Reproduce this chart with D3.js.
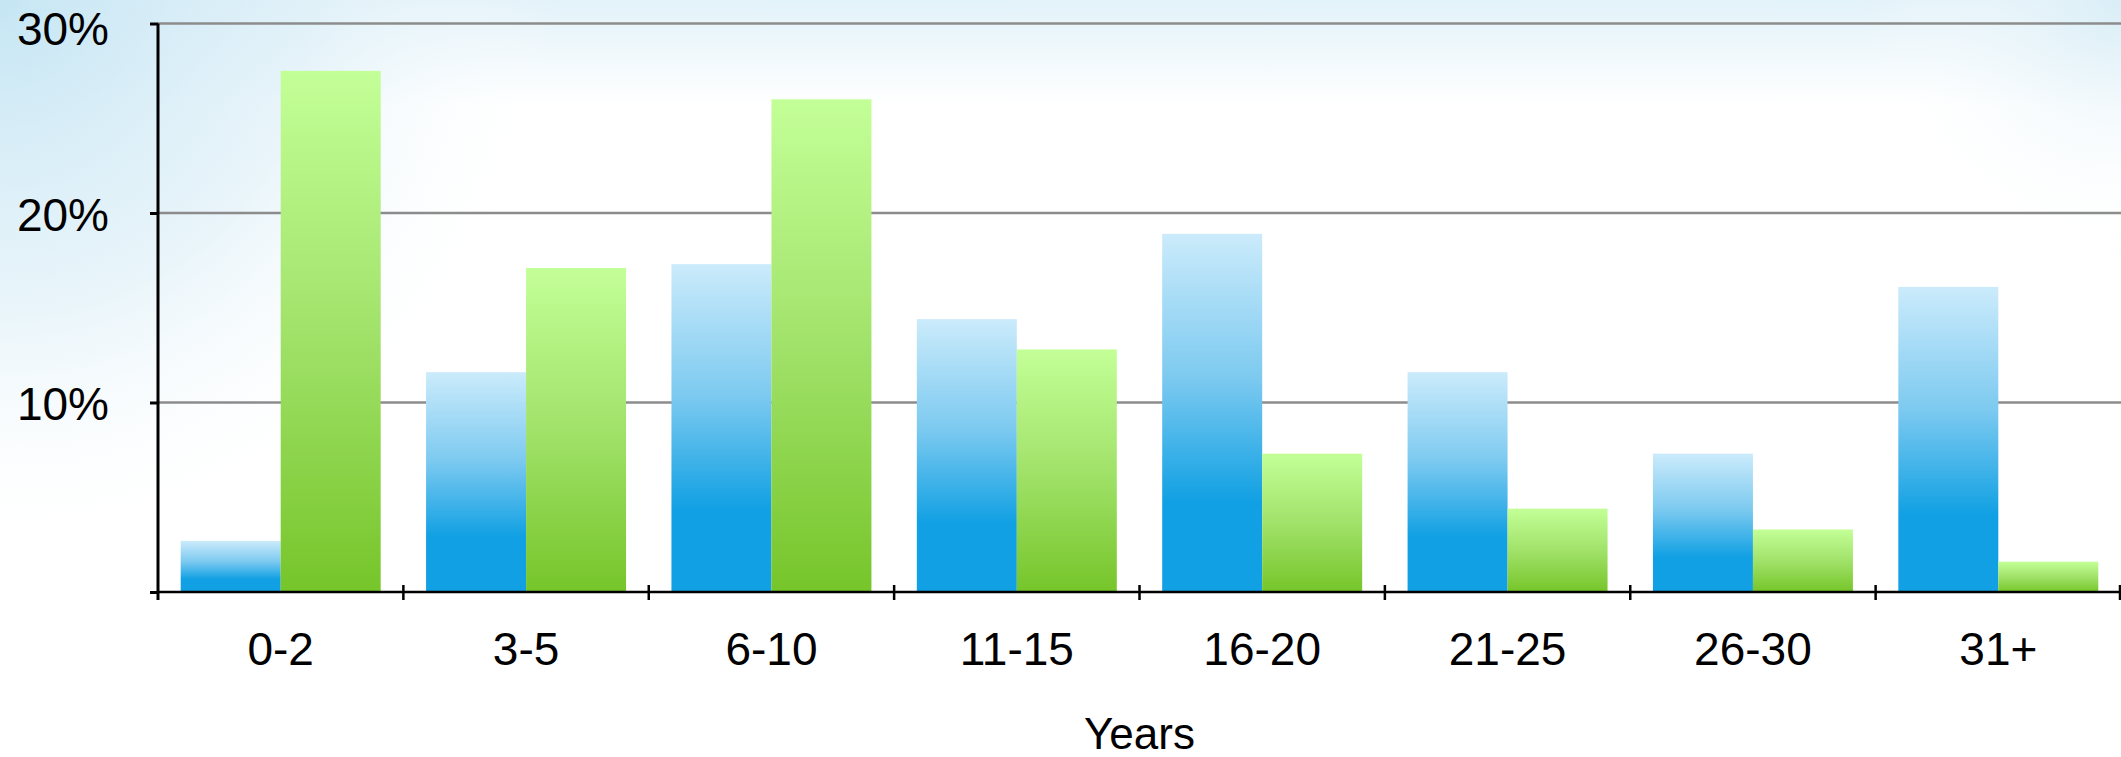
<!DOCTYPE html>
<html>
<head>
<meta charset="utf-8">
<script src="https://cdnjs.cloudflare.com/ajax/libs/d3/7.8.5/d3.min.js"></script>
<style>
  html, body { margin: 0; padding: 0; background: #fff; overflow: hidden; }
  text { font-family: "Liberation Sans", Arial, Helvetica, sans-serif; fill: #000; }
</style>
</head>
<body>
<svg id="chart" width="2121" height="757"></svg>
<script>
// chart data
const categories = ["0-2", "3-5", "6-10", "11-15", "16-20", "21-25", "26-30", "31+"];
const seriesNames = ["blue", "green"];
const blueValues = [2.7, 11.6, 17.3, 14.4, 18.9, 11.6, 7.3, 16.1];
const greenValues = [27.5, 17.1, 26.0, 12.8, 7.3, 4.4, 3.3, 1.6];
const yTicks = [0, 10, 20, 30];
const yTickLabels = ["", "10%", "20%", "30%"];
const xTitle = "Years";

const width = 2121, height = 757;
const margin = {left: 158, right: 0, top: 23.5, bottom: 165};

const svg = d3.select("#chart");
const defs = svg.append("defs");

// background wash: light blue in the top left corner, fading to white
const bgLin = defs.append("linearGradient").attr("id", "bgLin")
  .attr("x1", 0).attr("y1", 0).attr("x2", 0).attr("y2", 1);
bgLin.append("stop").attr("offset", "0%").attr("stop-color", "#e2f2f9");
bgLin.append("stop").attr("offset", "14%").attr("stop-color", "#ffffff");
bgLin.append("stop").attr("offset", "100%").attr("stop-color", "#ffffff");

const bgRad = defs.append("radialGradient").attr("id", "bgRad")
  .attr("gradientUnits", "userSpaceOnUse")
  .attr("cx", 0).attr("cy", 0).attr("r", 560);
bgRad.append("stop").attr("offset", "0%").attr("stop-color", "#c6e6f4").attr("stop-opacity", 1);
bgRad.append("stop").attr("offset", "55%").attr("stop-color", "#dff0f8").attr("stop-opacity", 0.7);
bgRad.append("stop").attr("offset", "100%").attr("stop-color", "#ffffff").attr("stop-opacity", 0);

const bgRad2 = defs.append("radialGradient").attr("id", "bgRad2")
  .attr("gradientUnits", "userSpaceOnUse")
  .attr("cx", 2121).attr("cy", 0).attr("r", 260);
bgRad2.append("stop").attr("offset", "0%").attr("stop-color", "#d8edf6").attr("stop-opacity", 0.9);
bgRad2.append("stop").attr("offset", "100%").attr("stop-color", "#ffffff").attr("stop-opacity", 0);

svg.append("rect").attr("width", width).attr("height", height).attr("fill", "url(#bgLin)");
svg.append("rect").attr("width", width).attr("height", height).attr("fill", "url(#bgRad)");
svg.append("rect").attr("width", width).attr("height", height).attr("fill", "url(#bgRad2)");

// bar gradients
const gBlue = defs.append("linearGradient").attr("id", "gradBlue")
  .attr("x1", 0).attr("y1", 0).attr("x2", 0).attr("y2", 1);
gBlue.append("stop").attr("offset", "0%").attr("stop-color", "#cbebfb");
gBlue.append("stop").attr("offset", "40%").attr("stop-color", "#7dcaf0");
gBlue.append("stop").attr("offset", "75%").attr("stop-color", "#10a0e3");
gBlue.append("stop").attr("offset", "100%").attr("stop-color", "#10a0e3");

const gGreen = defs.append("linearGradient").attr("id", "gradGreen")
  .attr("x1", 0).attr("y1", 0).attr("x2", 0).attr("y2", 1);
gGreen.append("stop").attr("offset", "0%").attr("stop-color", "#c3ff97");
gGreen.append("stop").attr("offset", "50%").attr("stop-color", "#a1e26a");
gGreen.append("stop").attr("offset", "100%").attr("stop-color", "#76c52a");

const fills = {blue: "url(#gradBlue)", green: "url(#gradGreen)"};

// scales
const x0 = d3.scaleBand()
  .domain(categories)
  .range([margin.left, width - margin.right])
  .paddingInner(0).paddingOuter(0);

const x1 = d3.scaleBand()
  .domain(seriesNames)
  .range([0, x0.bandwidth()])
  .paddingInner(0).paddingOuter(0.227);

const y = d3.scaleLinear()
  .domain([0, 30])
  .range([height - margin.bottom, margin.top]);

// gridlines
svg.append("g").selectAll("line")
  .data(yTicks.filter(d => d > 0))
  .enter().append("line")
  .attr("x1", margin.left).attr("x2", width)
  .attr("y1", d => y(d)).attr("y2", d => y(d))
  .attr("stroke", "#8c8c8c").attr("stroke-width", 2.5);

// bars
const rows = categories.map((c, i) => ({cat: c, blue: blueValues[i], green: greenValues[i]}));

const groups = svg.append("g").selectAll("g")
  .data(rows)
  .enter().append("g")
  .attr("transform", d => `translate(${x0(d.cat)},0)`);

groups.selectAll("rect")
  .data(d => seriesNames.map(k => ({key: k, value: d[k]})))
  .enter().append("rect")
  .attr("x", d => x1(d.key))
  .attr("width", x1.bandwidth())
  .attr("y", d => y(d.value))
  .attr("height", d => y(0) - y(d.value))
  .attr("fill", d => fills[d.key]);

// y axis
const yAxis = d3.axisLeft(y)
  .tickValues(yTicks)
  .tickSize(8)
  .tickSizeOuter(0)
  .tickFormat((d, i) => yTickLabels[i]);

const yg = svg.append("g")
  .attr("transform", `translate(${margin.left},0)`)
  .call(yAxis);
yg.select(".domain").remove();
yg.selectAll(".tick line").attr("stroke", "#000").attr("stroke-width", 3);
yg.selectAll(".tick text")
  .attr("x", -49)
  .attr("dy", d => d === 30 ? "0.45em" : "0.38em")
  .attr("font-size", 46)
  .style("font-family", "'Liberation Sans', Arial, sans-serif")
  .attr("fill", "#000");

// y axis line (runs down past the baseline to the first category tick)
svg.append("line")
  .attr("x1", margin.left).attr("x2", margin.left)
  .attr("y1", y(30)).attr("y2", y(0) + 8)
  .attr("stroke", "#000").attr("stroke-width", 3);

// x axis
svg.append("line")
  .attr("x1", margin.left).attr("x2", width)
  .attr("y1", y(0)).attr("y2", y(0))
  .attr("stroke", "#000").attr("stroke-width", 2.5);

const boundaries = categories.map(c => x0(c)).concat([x0(categories[categories.length - 1]) + x0.bandwidth() - 1]);
svg.append("g").selectAll("line")
  .data(boundaries.slice(1))
  .enter().append("line")
  .attr("x1", d => d).attr("x2", d => d)
  .attr("y1", y(0) - 7).attr("y2", y(0) + 8)
  .attr("stroke", "#000").attr("stroke-width", 2.5);

svg.append("g").selectAll("text")
  .data(categories)
  .enter().append("text")
  .attr("x", d => x0(d) + x0.bandwidth() / 2)
  .attr("y", 665)
  .attr("text-anchor", "middle")
  .attr("font-size", 46)
  .text(d => d);

svg.append("text")
  .attr("x", (margin.left + width) / 2)
  .attr("y", 749)
  .attr("text-anchor", "middle")
  .attr("font-size", 44)
  .text(xTitle);
</script>
</body>
</html>
